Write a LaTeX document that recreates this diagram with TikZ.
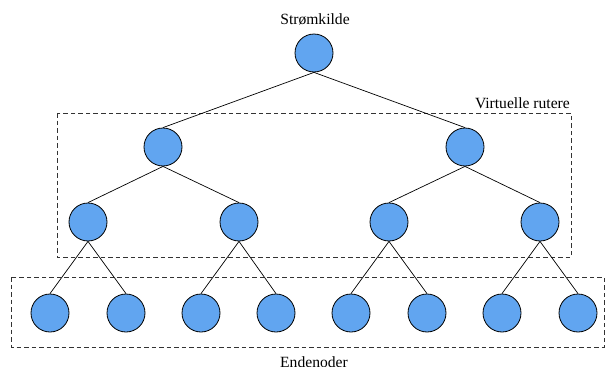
\documentclass[tikz,border=0pt]{standalone}
\usepackage{fontspec}
\setmainfont{Liberation Serif}
\begin{document}
\begin{tikzpicture}[x=1pt,y=-1pt,
  nodecirc/.style={circle,draw=black,line width=0.8pt,fill=nodeblue,minimum size=38pt,inner sep=0pt},
  edge/.style={draw=black,line width=0.7pt},
  groupbox/.style={draw=black!80,line width=0.8pt,dash pattern=on 4.5pt off 3pt},
  lbl/.style={font=\fontsize{15.6}{17}\selectfont,inner sep=0pt}]
\definecolor{nodeblue}{RGB}{97,165,240}
\useasboundingbox (0,0) rectangle (606,367);

% grouping boxes
\draw[groupbox] (57,113) rectangle (571,257);
\draw[groupbox] (11.5,277) rectangle (604,347);

% source
\node[nodecirc] (r) at (314,53) {};
% virtual routers
\node[nodecirc] (a) at (163,147) {};
\node[nodecirc] (b) at (465,147) {};
\node[nodecirc] (a1) at (88,222) {};
\node[nodecirc] (a2) at (239,222) {};
\node[nodecirc] (b1) at (389,222) {};
\node[nodecirc] (b2) at (540,222) {};
% end nodes
\node[nodecirc] (l1) at (50,313) {};
\node[nodecirc] (l2) at (126,313) {};
\node[nodecirc] (l3) at (201,313) {};
\node[nodecirc] (l4) at (276,313) {};
\node[nodecirc] (l5) at (351,313) {};
\node[nodecirc] (l6) at (427,313) {};
\node[nodecirc] (l7) at (502,313) {};
\node[nodecirc] (l8) at (578,313) {};

% tree edges: bottom of parent to top of child
\foreach \p/\c in {r/a,r/b,a/a1,a/a2,b/b1,b/b2,a1/l1,a1/l2,a2/l3,a2/l4,b1/l5,b1/l6,b2/l7,b2/l8}
  \draw[edge] (\p.south) -- (\c.north);

% labels
\node[lbl] (tsrc) at (315,19) {Strømkilde};
\node[lbl,anchor=east] (tvr) at (570,103) {Virtuelle rutere};
\node[lbl] (tend) at (314,362) {Endenoder};
\end{tikzpicture}
\end{document}
